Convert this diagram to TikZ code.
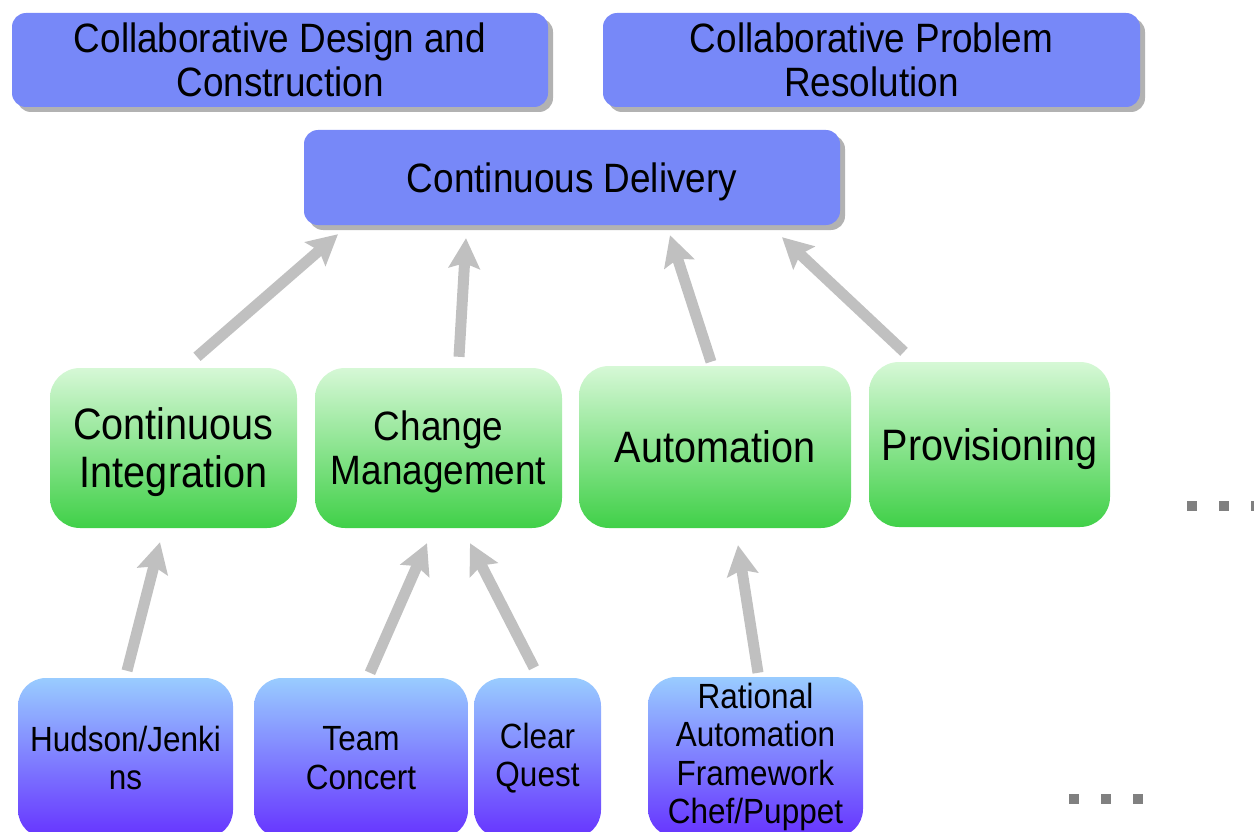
\documentclass[tikz,border=0pt]{standalone}
\usepackage{fontspec}
\setmainfont{Liberation Sans}[FakeStretch=0.9]
\usetikzlibrary{arrows.meta,shadows}
\definecolor{capblue}{RGB}{119,136,248}
\definecolor{areatop}{RGB}{214,248,214}
\definecolor{areabot}{RGB}{64,208,72}
\definecolor{tooltop}{RGB}{153,204,255}
\definecolor{toolbot}{RGB}{102,51,255}
\definecolor{linkgray}{RGB}{192,192,192}
\definecolor{dotgray}{RGB}{128,128,128}
\tikzstyle{capbox} = [rounded corners=14pt, fill=capblue, general shadow={fill=black!30, shadow xshift=5pt, shadow yshift=-5pt}, align=center, inner sep=0pt, text depth=-3.5pt, font=\fontsize{41}{44}\selectfont]
\tikzstyle{areabox} = [rounded corners=30pt, top color=areatop, bottom color=areabot, align=center, inner sep=0pt, text depth=-4pt, font=\fontsize{44}{48}\selectfont]
\tikzstyle{toolbox} = [rounded corners=28pt, top color=tooltop, bottom color=toolbot, align=center, inner sep=0pt, font=\fontsize{35}{38.5}\selectfont]
\tikzstyle{uplink} = [draw=linkgray, line width=11pt, -{Stealth[length=30pt, width=31pt, inset=5pt]}]
\newcommand{\placetile}[7]{
  \node[#2, minimum width=#5pt, minimum height=#6pt] (#1) at (#3,#4) {#7};
}
\newcommand{\tilelink}[6]{
  \draw[uplink] ([xshift=#3pt, yshift=#4pt]#1.north) -- ([xshift=#5pt, yshift=#6pt]#2.south);
}
\begin{document}
\begin{tikzpicture}[x=1pt, y=-1pt]
\useasboundingbox (0,0) rectangle (1254,832);
\placetile{design}{capbox}{280}{60}{536}{94}{Collaborative Design and\\Construction}
\placetile{problem}{capbox}{871.5}{60}{537}{94}{Collaborative Problem\\Resolution}
\placetile{delivery}{capbox}{572}{177.5}{536}{95}{Continuous Delivery}
\placetile{integ}{areabox}{173.5}{448}{247}{160}{Continuous\\Integration}
\placetile{change}{areabox, font=\fontsize{41}{44}\selectfont}{438.5}{448}{247}{160}{Change\\Management}
\placetile{autom}{areabox}{715}{447}{272}{162}{Automation}
\placetile{prov}{areabox}{989.5}{444.5}{241}{165}{Provisioning}
\placetile{hudson}{toolbox}{125.5}{758}{215}{160}{Hudson/Jenki\\ns}
\placetile{team}{toolbox}{361}{758}{214}{160}{Team\\Concert}
\placetile{clear}{toolbox}{537.5}{758}{127}{160}{Clear\\Quest}
\placetile{rational}{toolbox}{755.5}{757}{215}{160}{Rational\\Automation\\Framework\\Chef/Puppet}

\tilelink{integ}{delivery}{23.5}{11}{-234}{-9}
\tilelink{change}{delivery}{20.5}{11}{-106}{-13}
\tilelink{autom}{delivery}{-4}{4}{98}{-10}
\tilelink{prov}{delivery}{-85.5}{10}{210}{-12}
\tilelink{hudson}{integ}{1.5}{7}{-13.5}{-14}
\tilelink{team}{change}{9}{5}{-11.5}{-15}
\tilelink{clear}{change}{-3.5}{10}{31.5}{-15}
\tilelink{rational}{autom}{2.5}{4}{23}{-17}

\foreach \dx in {0,32,64} {
  \fill[dotgray] (1187+\dx,501) rectangle ++(10,10);
  \fill[dotgray] (1069+\dx,794) rectangle ++(10,10);
}
\end{tikzpicture}
\end{document}
